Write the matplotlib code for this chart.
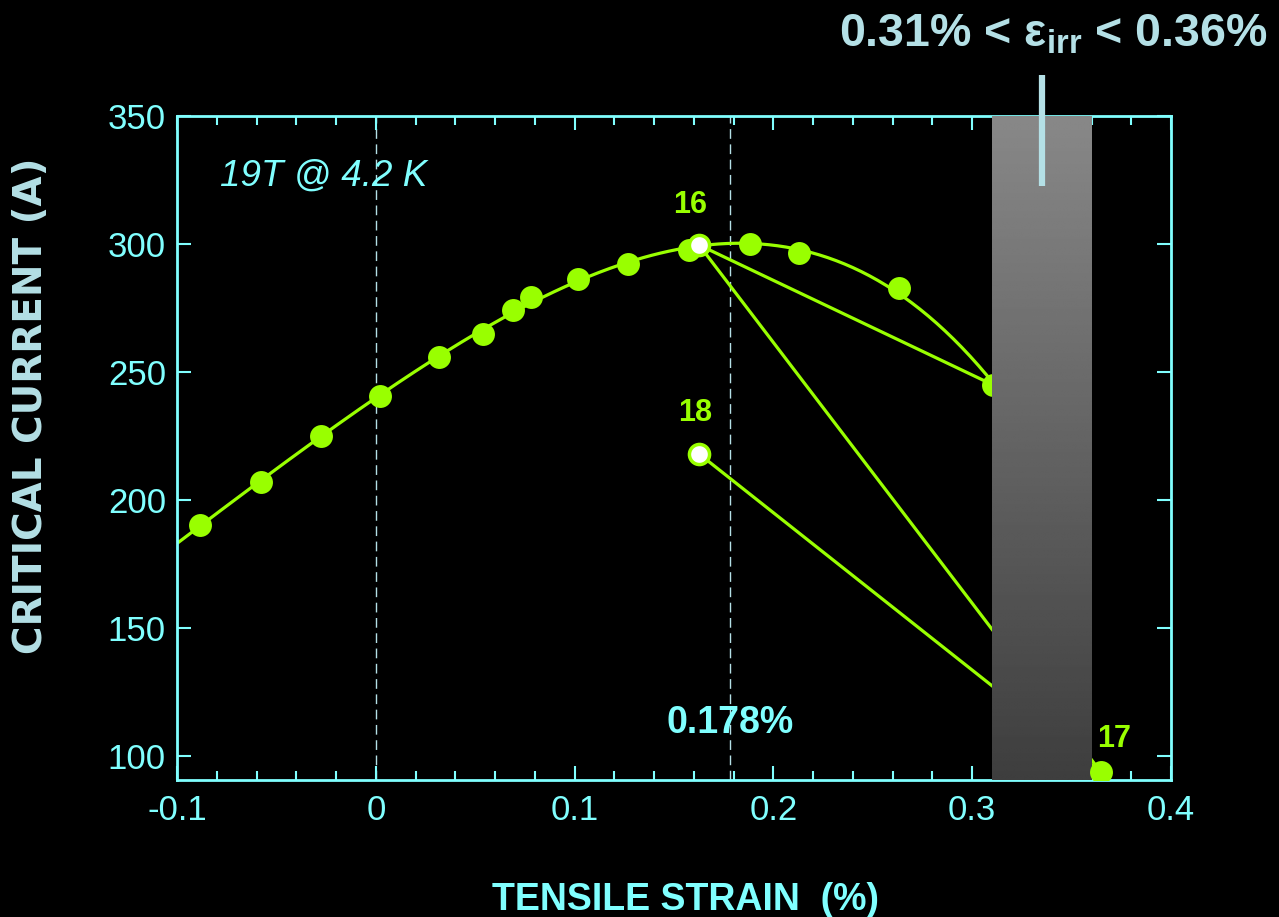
import matplotlib.pyplot as plt
import numpy as np

plt.rcParams['font.family'] = 'Liberation Sans'
plt.rcParams['mathtext.fontset'] = 'custom'
plt.rcParams['mathtext.rm'] = 'Liberation Sans'
plt.rcParams['mathtext.bf'] = 'Liberation Sans:bold'

# Ic vs strain, loading branch (strain in %, Ic in A)
strain = [-0.0884, -0.058, -0.0278, 0.002, 0.0318, 0.054, 0.069, 0.078,
          0.1015, 0.1268, 0.1576, 0.188, 0.213, 0.263, 0.3106]
ic = [190.2, 207.0, 225.0, 240.6, 255.9, 264.8, 274.2, 279.3,
      286.3, 292.2, 297.7, 300.0, 296.5, 282.8, 244.9]

# numbered measurements after unloading
run_labels = ['16', '18', '17']
run_strain = [0.1626, 0.1626, 0.3646]
run_ic = [299.6, 218.0, 93.8]

eps_peak = 0.178
eps_irr_lo, eps_irr_hi = 0.31, 0.36

xticks = [-0.1, 0, 0.1, 0.2, 0.3, 0.4]
xtick_labels = ['-0.1', '0', '0.1', '0.2', '0.3', '0.4']
yticks = [100, 150, 200, 250, 300, 350]

green = '#99ff00'
cyan = '#80ffff'
pale = '#b4e0e6'

fig = plt.figure(figsize=(12.79, 9.17), dpi=100, facecolor='black')
ax = fig.add_axes([0.1384, 0.1494, 0.7772, 0.7241], facecolor='black')
ylo, yhi = 90.6, 350

# reference strains
for xv in [0, eps_peak]:
    ax.axvline(xv, color=pale, lw=1, dashes=(7, 4), zorder=1)

# polynomial fit through the loading data
coef = np.polyfit(strain, ic, 4)
xs = np.linspace(-0.1, 0.32, 300)
ax.plot(xs, np.polyval(coef, xs), color=green, lw=2.3, zorder=2)
ax.plot(strain, ic, 'o', color=green, ms=16.5, mew=0, zorder=3)

# unloading / reloading paths
i16, i18, i17 = 0, 1, 2
paths = [((run_strain[i16], run_ic[i16]), (strain[-1], ic[-1])),
         ((run_strain[i16], run_ic[i16]), (run_strain[i17], run_ic[i17])),
         ((run_strain[i18], run_ic[i18]), (run_strain[i17], run_ic[i17]))]
for (x0, y0), (x1, y1) in paths:
    ax.plot([x0, x1], [y0, y1], color=green, lw=2.3, zorder=2)

for i in [i16, i18]:
    ax.plot(run_strain[i], run_ic[i], 'o', mfc='white', mec=green, ms=14.5, mew=2.5, zorder=3)

# irreversible strain window
grad = np.linspace(62 / 255, 136 / 255, 256).reshape(-1, 1)
ax.imshow(grad, extent=[eps_irr_lo, eps_irr_hi, ylo, yhi], origin='lower', aspect='auto',
          cmap='gray', vmin=0, vmax=1, interpolation='bilinear', zorder=4)
xm = (eps_irr_lo + eps_irr_hi) / 2
ax.plot([xm, xm], [322.7, 366], color=pale, lw=4.5, solid_capstyle='butt', clip_on=False, zorder=5)

ax.plot(run_strain[i17], run_ic[i17], 'o', color=green, ms=16.5, mew=0, zorder=6)

# labels on the numbered points
lab_pos = [(0.158, 312.1), (0.1606, 231.0), (0.3712, 103.5)]
for txt, (lx, ly) in zip(run_labels, lab_pos):
    ax.text(lx, ly, txt, color=green, fontsize=22, fontweight='bold', ha='center', va='baseline', zorder=7)

ax.text(eps_peak, 109.0, f'{eps_peak:.3f}%', color=cyan, fontsize=27, fontweight='bold',
        ha='center', va='baseline', zorder=7)
ax.text(-0.0783, 323.0, '19T @ 4.2 K', color=cyan, fontsize=26.5, fontstyle='italic',
        ha='left', va='baseline')

ax.set_xlim(-0.1, 0.4)
ax.set_ylim(ylo, yhi)
ax.set_xticks(xticks, xtick_labels)
ax.set_xticks(np.arange(-0.1, 0.401, 0.02), minor=True)
ax.set_yticks(yticks, [str(v) for v in yticks])

for s in ax.spines.values():
    s.set_color(cyan)
    s.set_linewidth(2)
ax.tick_params(which='both', direction='in', top=True, right=True, color=cyan,
               labelcolor=cyan, labelsize=25, width=1.5)
ax.tick_params(which='major', length=10)
ax.tick_params(which='minor', length=6.5)
ax.tick_params(axis='x', pad=10)
ax.tick_params(axis='y', pad=8)

fig.text(685 / 1279, 1 - 910 / 917, 'TENSILE STRAIN  (%)', color=cyan, fontsize=27,
         fontweight='bold', ha='center', va='baseline')
fig.text(31.5 / 1279, 1 - 405.5 / 917, 'CRITICAL CURRENT (A)', color=pale, fontsize=28,
         family='DejaVu Sans', fontweight='bold', rotation=90, ha='center', va='center')
fig.text(1053 / 1279, 1 - 47 / 917, '0.31% < ε$_{\\mathregular{irr}}$ < 0.36%', color=pale,
         fontsize=33.5, fontweight='bold', ha='center', va='baseline')

fig.savefig('out.png', dpi=100, facecolor='black')
